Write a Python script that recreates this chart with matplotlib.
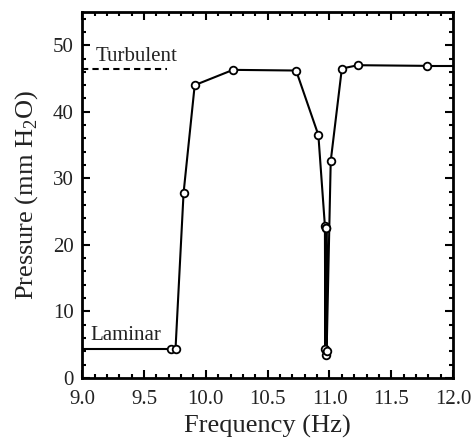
import matplotlib
matplotlib.use("Agg")
import matplotlib.pyplot as plt
from matplotlib.ticker import MultipleLocator

plt.rcParams['font.family'] = ['Liberation Serif', 'DejaVu Serif']
plt.rcParams['mathtext.fontset'] = 'custom'
plt.rcParams['mathtext.rm'] = 'Liberation Serif'

# measured pressure vs drive frequency (several sweeps through the dip near 11 Hz)
freq = [9.72, 9.755, 9.82, 9.91, 10.22, 10.73, 10.91, 10.963,
        10.966, 10.969, 10.972, 10.975, 10.977, 11.01, 11.10, 11.23, 11.79]
pressure = [4.4, 4.4, 27.8, 44.0, 46.3, 46.2, 36.5, 22.8,
            4.3, 22.6, 3.5, 22.5, 4.0, 32.6, 46.5, 47.0, 46.9]

# flat levels at the plot edges
laminar_x = [9.0, 9.72]
laminar_y = [4.4, 4.4]
turbulent_x = [9.0, 9.69]
turbulent_y = [46.4, 46.4]
tail_x = [11.79, 12.0]
tail_y = [46.9, 46.9]

TXT = '#222222'

fig = plt.figure(figsize=(4.75, 4.44), dpi=100)
ax = fig.add_axes([0.173, 0.149, 0.781, 0.824])

ax.plot(laminar_x, laminar_y, color='black', lw=1.5)
ax.plot(turbulent_x, turbulent_y, color='black', lw=1.5, ls=(0, (3, 2)))
ax.plot(tail_x, tail_y, color='black', lw=1.5)
ax.plot(freq, pressure, color='black', lw=1.5, marker='o', markersize=5.5,
        markerfacecolor='white', markeredgecolor='black', markeredgewidth=1.3)

ax.text(9.105, 47.6, 'Turbulent', fontsize=15, color=TXT, va='baseline')
ax.text(9.065, 5.7, 'Laminar', fontsize=15, color=TXT, va='baseline')

ax.set_xlim(9.0, 12.0)
ax.set_ylim(0, 55)
ax.set_xticks([9.0, 9.5, 10.0, 10.5, 11.0, 11.5, 12.0])
ax.set_xticklabels(['9.0', '9.5', '10.0', '10.5', '11.0', '11.5', '12.0'])
ax.xaxis.set_minor_locator(MultipleLocator(0.1))
ax.yaxis.set_major_locator(MultipleLocator(10))
ax.yaxis.set_minor_locator(MultipleLocator(2))

ax.tick_params(which='both', direction='in', top=True, right=True,
               labelsize=15, labelcolor=TXT, width=1.5)
ax.tick_params(which='major', length=6)
ax.tick_params(axis='x', which='major', pad=9)
ax.tick_params(axis='y', which='major', pad=6)
ax.tick_params(which='minor', length=3)
for sp in ax.spines.values():
    sp.set_linewidth(2)

ax.set_xlabel('Frequency (Hz)', fontsize=19, color=TXT, labelpad=4)
ax.set_ylabel('Pressure (mm H$_2$O)', fontsize=19, color=TXT, labelpad=9)

fig.savefig('out.png', dpi=100)
